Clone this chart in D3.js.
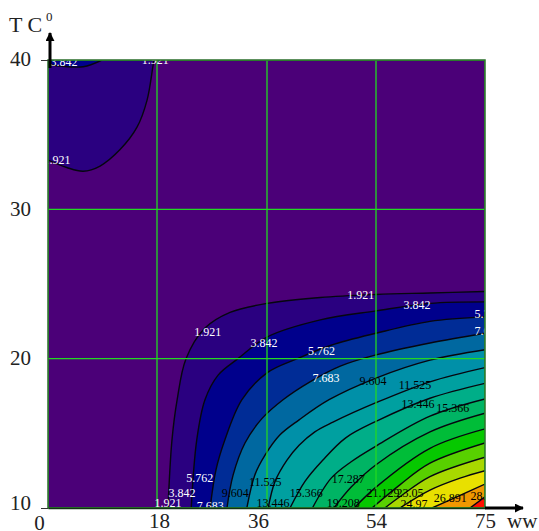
<!DOCTYPE html>
<html>
<head>
<meta charset="utf-8">
<script src="https://d3js.org/d3.v7.min.js"></script>
<style>
    body { margin: 0; background: #fff; }
    svg { display: block; }
    text { font-family: "Liberation Serif", "Times New Roman", serif; }
</style>
</head>
<body>
<svg id="chart" width="539" height="531"></svg>
<script>

// x and y ticks, the x axis is spaced evenly although the values are not
const xTicks = [0, 18, 36, 54, 75];
const yTicks = [10, 20, 30, 40];

const levels = [1.921, 3.842, 5.762, 7.683, 9.604, 11.525, 13.446, 15.366, 17.287, 19.208, 21.129, 23.05, 24.97, 26.891, 28.812];

const bandColors = ["#4b0078", "#2a0080", "#00008c", "#002c96", "#0068a0", "#0090a8", "#00a0a0", "#00ae88",
    "#00b464", "#00bd38", "#06c800", "#58d000", "#a8d800", "#e8e000", "#f09800", "#ff1000"];

// contour lines as [ww, T], one list per level
const contours = [
    [[19.8, 10], [20.45, 14.55], [21.3, 17.25], [22.75, 20], [25.85, 22.05], [29.95, 23.1], [36, 23.7], [44.8, 24.1], [54, 24.3], [64.4, 24.4], [75, 24.5]],
    [[23.6, 10], [24.5, 14.55], [25.85, 17.25], [28, 18.9], [31.25, 20], [36, 21.45], [44.8, 22.6], [54, 23.2], [64.4, 23.7], [75, 23.8]],
    [[26.7, 10], [27.65, 12.55], [29.1, 14.55], [31.9, 17.25], [36, 19.05], [41, 20], [46.6, 20.9], [54, 21.7], [64.4, 22.5], [75, 22.8]],
    [[29.45, 10], [30.45, 12.2], [32.4, 14.35], [35.2, 16], [38.65, 17.25], [43.1, 18.45], [48.1, 19.5], [54, 20.25], [64.4, 21.05], [75, 21.7]],
    [[32.7, 10], [34, 12.2], [35.7, 13.55], [38.15, 14.9], [41.3, 15.9], [46.25, 17.25], [54, 18.7], [64.4, 19.9], [75, 20.6]],
    [[36.2, 10], [37.3, 11.75], [39.3, 13.2], [41.3, 14.2], [43.9, 15.1], [46.9, 15.75], [54, 17.05], [64.4, 18.45], [75, 19.4]],
    [[39.8, 10], [42.3, 11.8], [45.2, 13.2], [49, 14.7], [54, 15.8], [64.4, 17.35], [75, 18.35]],
    [[43.5, 10], [46.6, 12], [49.9, 13.1], [54, 14.15], [64.4, 16.15], [75, 17.3]],
    [[47.05, 10], [49.9, 11.4], [54, 12.9], [64.4, 15.1], [75, 16.35]],
    [[50.4, 10], [54, 11.4], [64.4, 14], [75, 15.3]],
    [[53.35, 10], [58.6, 11.55], [64.4, 13], [75, 14.35]],
    [[55.7, 10], [58.6, 10.75], [64.4, 12.1], [75, 13.4]],
    [[58.6, 10], [64.4, 11.2], [70.2, 12], [75, 12.5]],
    [[64.8, 10], [70.2, 10.85], [75, 11.6]],
    [[72.1, 10], [75, 10.75]]
];

// the two closed areas along the top left corner
const blobLevel1 = [[0, 33.3], [3.1, 32.8], [5.8, 32.55], [8.6, 32.9], [11.9, 34], [14.7, 35.5], [16.35, 37.3], [17.3, 39.5], [17.5, 40]];
const blobLevel2 = [[0, 39.7], [5.8, 39.55], [8.9, 40]];

const labelTexts = ["3.842", "1.921", "1.921", "1.921", "3.842", "5.762", "7.683", "9.604", "1.921", "11.525", "13.446", "15.366", "3.842", "5.762", "7.683",
    "1.921", "3.842", "5.762", "7.683", "9.604", "11.525", "13.446", "15.366", "17.287", "19.208", "21.129", "23.05", "24.97", "26.891", "28.812"];
const labelX = [2.65, 17.7, 1.5, 26.3, 35.5, 45, 45.75, 53.5, 51.5, 61.5, 62.1, 68.8, 61.9, 75.6, 75.6,
    19.8, 22.1, 25, 26.7, 30.8, 35.7, 37, 42.5, 49.4, 48.6, 55.35, 60.55, 61.3, 68.3, 75.4];
const labelY = [39.9, 40, 33.3, 21.8, 21.05, 20.5, 18.75, 18.55, 24.25, 18.25, 17, 16.7, 23.6, 23, 21.85,
    10.35, 11.05, 12, 10.15, 11.05, 11.75, 10.35, 11.05, 11.95, 10.35, 11, 11.05, 10.25, 10.65, 10.85];

const svg = d3.select("#chart");

const xScale = d3.scaleLinear()
    .domain(xTicks)
    .range([48, 157, 267, 376, 485]);

const yScale = d3.scaleLinear()
    .domain([10, 40])
    .range([508, 60]);

const line = d3.line()
    .x(d => xScale(d[0]))
    .y(d => yScale(d[1]))
    .curve(d3.curveCatmullRom);

svg.append("clipPath")
    .attr("id", "plotClip")
    .append("rect")
    .attr("x", xScale(0))
    .attr("y", yScale(40))
    .attr("width", xScale(75) - xScale(0))
    .attr("height", yScale(10) - yScale(40));

const plot = svg.append("g").attr("clip-path", "url(#plotClip)");

plot.append("rect")
    .attr("x", xScale(0))
    .attr("y", yScale(40))
    .attr("width", xScale(75) - xScale(0))
    .attr("height", yScale(10) - yScale(40))
    .attr("fill", bandColors[0]);

// each band is drawn as the area from its contour to the lower right corner
contours.forEach((contour, i) => {
    plot.append("path")
        .attr("d", line(contour) + `L${xScale(75)},${yScale(10)}Z`)
        .attr("fill", bandColors[i + 1]);
});

plot.append("path")
    .attr("d", line(blobLevel1) + `L${xScale(0)},${yScale(40)}Z`)
    .attr("fill", bandColors[1]);

plot.append("path")
    .attr("d", line(blobLevel2) + `L${xScale(0)},${yScale(40)}Z`)
    .attr("fill", bandColors[2]);

contours.concat([blobLevel1, blobLevel2]).forEach(contour => {
    plot.append("path")
        .attr("d", line(contour))
        .attr("fill", "none")
        .attr("stroke", "#06060f")
        .attr("stroke-width", 1.4);
});

// grid
xTicks.forEach(d => {
    plot.append("line")
        .attr("x1", xScale(d)).attr("x2", xScale(d))
        .attr("y1", yScale(40)).attr("y2", yScale(10))
        .attr("stroke", "#22d822")
        .attr("stroke-width", 1.3);
});

yTicks.forEach(d => {
    plot.append("line")
        .attr("x1", xScale(0)).attr("x2", xScale(75))
        .attr("y1", yScale(d)).attr("y2", yScale(d))
        .attr("stroke", "#22d822")
        .attr("stroke-width", 1.3);
});

labelTexts.forEach((label, i) => {
    plot.append("text")
        .attr("x", xScale(labelX[i]))
        .attr("y", yScale(labelY[i]))
        .attr("dy", "0.35em")
        .attr("text-anchor", "middle")
        .attr("font-size", 12)
        .attr("fill", parseFloat(label) < 9 ? "#fff" : "#000")
        .text(label);
});

// frame
svg.append("rect")
    .attr("x", xScale(0))
    .attr("y", yScale(40))
    .attr("width", xScale(75) - xScale(0))
    .attr("height", yScale(10) - yScale(40))
    .attr("fill", "none")
    .attr("stroke", "#2a6e2a")
    .attr("stroke-width", 1.5);

// axes
const xAxis = d3.axisBottom(xScale).tickValues(xTicks).tickSize(0).tickPadding(5);
const yAxis = d3.axisLeft(yScale).tickValues(yTicks).tickSize(7).tickPadding(10);

const xAxisG = svg.append("g")
    .attr("transform", `translate(0,${yScale(10)})`)
    .call(xAxis);

xAxisG.select(".domain").attr("stroke", "#123012").attr("stroke-width", 1.5);

xAxisG.selectAll("text")
    .attr("font-size", 21)
    .attr("font-family", "Liberation Serif")
    .attr("fill", "#222")
    .attr("dx", d => d === 36 ? -9 : d === 0 ? -9 : d === 18 ? 2 : 0)
    .attr("dy", d => d === 0 ? "0.8em" : "0.71em");

const yAxisG = svg.append("g")
    .attr("transform", `translate(${xScale(0)},0)`)
    .call(yAxis);

yAxisG.select(".domain").remove();

yAxisG.selectAll("text")
    .attr("font-size", 21)
    .attr("font-family", "Liberation Serif")
    .attr("fill", "#222")
    .attr("dy", d => d === 10 ? "0.05em" : "0.28em");

yAxisG.selectAll(".tick line")
    .attr("stroke", "#333")
    .attr("opacity", d => d === 10 || d === 40 ? 1 : 0);

// axis arrows
svg.append("defs").append("marker")
    .attr("id", "arrow")
    .attr("viewBox", "0 0 10 10")
    .attr("refX", 9)
    .attr("refY", 5)
    .attr("markerWidth", 3)
    .attr("markerHeight", 3)
    .attr("orient", "auto")
    .append("path")
    .attr("d", "M0,0L10,5L0,10Z")
    .attr("fill", "#000");

svg.append("line")
    .attr("x1", 50).attr("x2", 50)
    .attr("y1", yScale(40) + 8).attr("y2", 33)
    .attr("stroke", "#000")
    .attr("stroke-width", 3)
    .attr("marker-end", "url(#arrow)");

svg.append("line")
    .attr("x1", xScale(75)).attr("x2", 523)
    .attr("y1", yScale(10)).attr("y2", yScale(10))
    .attr("stroke", "#000")
    .attr("stroke-width", 3)
    .attr("marker-end", "url(#arrow)");

// axis titles
svg.append("text")
    .attr("x", 9).attr("y", 32)
    .attr("font-size", 22)
    .attr("fill", "#222")
    .text("T C");

svg.append("text")
    .attr("x", 46).attr("y", 21)
    .attr("font-size", 13)
    .attr("fill", "#222")
    .text("0");

svg.append("text")
    .attr("x", 507).attr("y", 528)
    .attr("font-size", 21)
    .attr("fill", "#222")
    .text("ww");

</script>
</body>
</html>
